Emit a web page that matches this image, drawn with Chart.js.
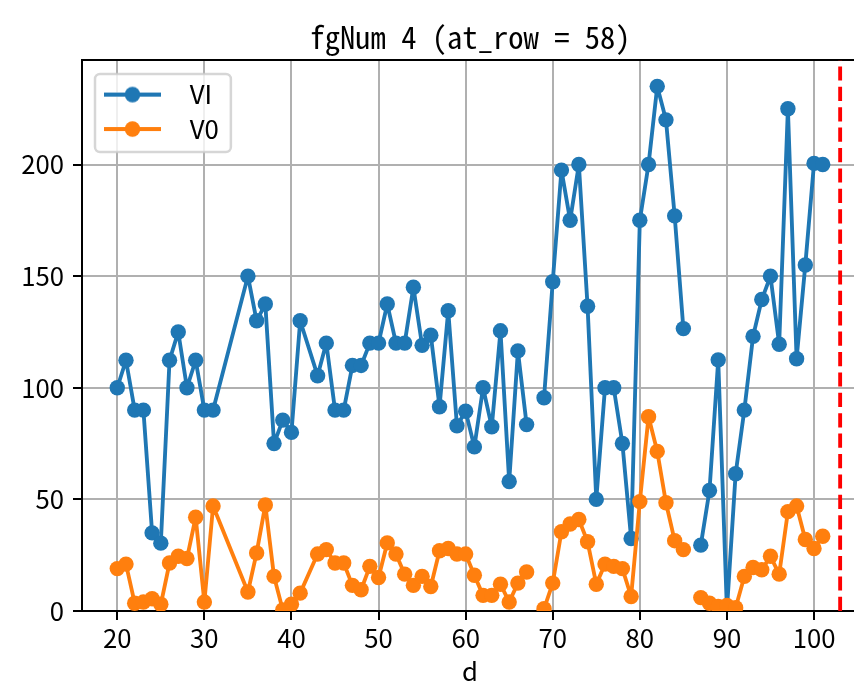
<!DOCTYPE html>
<html lang="ja">
<head>
  <meta charset="UTF-8">
  <title>fgNum 4 (at_row = 58)</title>
  <script src="https://cdn.jsdelivr.net/npm/chart.js"></script>
  <style>
    html, body { margin: 0; padding: 0; background: #fff; overflow: hidden; }
    #wrap { width: 870px; height: 688px; }
  </style>
</head>
<body>
  <div id="wrap"><canvas id="lineChart" width="870" height="688"></canvas></div>

  <script>
    // --- data (null = break in the line) ---
    const dVals = [
      20, 21, 22, 23, 24, 25, 26, 27, 28, 29, 30, 31,
      35, 36, 37, 38, 39, 40, 41,
      43, 44, 45, 46, 47, 48, 49, 50, 51, 52, 53, 54, 55, 56, 57, 58, 59, 60,
      61, 62, 63, 64, 65, 66, 67, 68,
      69, 70, 71, 72, 73, 74, 75, 76, 77, 78, 79, 80, 81, 82, 83, 84, 85, 86,
      87, 88, 89, 90, 91, 92, 93, 94, 95, 96, 97, 98, 99, 100, 101
    ];
    const v1Vals = [
      100, 112.3, 90, 90, 35, 30.4, 112.3, 125, 100, 112.3, 90, 90,
      150, 130, 137.5, 75, 85.5, 80, 130,
      105.4, 120, 90, 90, 110, 110, 120, 120, 137.5, 120, 120, 145, 119, 123.5, 91.5, 134.5, 83, 89.5,
      73.5, 100, 82.5, 125.5, 58, 116.5, 83.5, null,
      95.5, 147.5, 197.5, 175, 200, 136.5, 50, 100, 100, 75, 32.5, 175, 200, 235, 220, 177, 126.5, null,
      29.5, 54, 112.5, 0.5, 61.5, 90, 123, 139.5, 150, 119.5, 225, 113, 155, 200.5, 200
    ];
    const v0Vals = [
      19, 21, 3.5, 4, 5.5, 3, 21.5, 24.5, 23.5, 42, 4, 47,
      8.5, 26, 47.5, 15.5, 0.5, 3, 8,
      25.5, 27.5, 21.5, 21.5, 11.5, 9.5, 20, 15, 30.5, 25.5, 16.5, 11.5, 15.5, 11, 27, 28, 25.5, 25.5,
      16, 7, 7, 12, 4, 12.5, 17.5, null,
      1, 12.5, 35.5, 39, 41, 31, 12, 21, 20, 19, 6.5, 49, 87, 71.5, 48.5, 31.5, 27.5, null,
      6, 3.5, 2, 2.5, 1.5, 15.5, 19.5, 18.5, 24.5, 16.5, 44.5, 47, 32, 28, 33.5
    ];
    const seriesNames = ['VI', 'V0'];
    const vlineX = 103;
    const xTicks = [20, 30, 40, 50, 60, 70, 80, 90, 100];
    const yTicks = [0, 50, 100, 150, 200];
    const xMin = 15.95, xMax = 105.05, yMin = 0, yMax = 246.8;

    const BLUE = '#1f77b4', ORANGE = '#ff7f0e';
    const FS = 25.7; // tick / legend font size

    function hasFont(name) {
      const c = document.createElement('canvas').getContext('2d');
      const s = 'fgNum 4 (at_row = 58) WIim';
      c.font = '40px serif';
      const a = c.measureText(s).width;
      c.font = '40px "' + name + '", serif';
      return c.measureText(s).width !== a;
    }
    const titleFont = hasFont('Noto Sans Mono CJK JP')
      ? { family: '"Noto Sans Mono CJK JP"', size: 30.6, weight: 'normal' }
      : { family: '"Liberation Mono"', size: 25.5, weight: 'normal' };
    const BASE_FAMILY = '"Noto Sans CJK JP", "DejaVu Sans"';

    // legend handle: short line with a marker in the middle
    function makeHandle(color) {
      const c = document.createElement('canvas');
      c.width = 82; c.height = 20;
      const g = c.getContext('2d');
      g.strokeStyle = color; g.lineWidth = 3.85;
      g.beginPath(); g.moveTo(9, 10); g.lineTo(66, 10); g.stroke();
      g.fillStyle = color;
      g.beginPath(); g.arc(37.5, 10, 7.7, 0, Math.PI * 2); g.fill();
      return c;
    }
    const handles = [makeHandle(BLUE), makeHandle(ORANGE)];

    // put the legend inside the axes with a rounded white frame
    const legendFrame = {
      id: 'legendFrame',
      afterLayout(chart) {
        const lg = chart.legend, a = chart.chartArea;
        const pad = lg.options.labels.padding;
        lg.left = a.left + 13 - pad;
        lg.top = a.top + 34.6 - FS / 2 - pad;
      },
      beforeDatasetsDraw(chart) {
        const ctx = chart.ctx, a = chart.chartArea;
        ctx.save();
        ctx.font = FS + 'px ' + BASE_FAMILY;
        const tw = Math.max(...seriesNames.map(t => ctx.measureText(t).width));
        const x0 = a.left + 13, y0 = a.top + 14;
        const w = 82 + FS / 2 + tw + 12, h = 78;
        ctx.beginPath();
        ctx.roundRect(x0, y0, w, h, 5);
        ctx.fillStyle = 'rgba(255,255,255,0.8)';
        ctx.fill();
        ctx.lineWidth = 2.5;
        ctx.strokeStyle = 'rgba(204,204,204,0.8)';
        ctx.stroke();
        ctx.restore();
        chart.legend.draw();
      }
    };

    Chart.defaults.font.family = BASE_FAMILY;
    Chart.defaults.color = '#000';

    const toPts = vals => dVals.map((d, i) => ({ x: d, y: vals[i] }));

    const gridOpts = { color: '#b0b0b0', lineWidth: 2, tickLength: 9, tickColor: '#000', tickWidth: 2 };

    new Chart(document.getElementById('lineChart').getContext('2d'), {
      type: 'line',
      data: {
        datasets: [
          { label: seriesNames[0], data: toPts(v1Vals), borderColor: BLUE, backgroundColor: BLUE,
            borderWidth: 3.85, pointRadius: 7.7, pointBorderWidth: 0, pointBackgroundColor: BLUE,
            tension: 0, spanGaps: false, borderJoinStyle: 'round', clip: 0, order: 3 },
          { label: seriesNames[1], data: toPts(v0Vals), borderColor: ORANGE, backgroundColor: ORANGE,
            borderWidth: 3.85, pointRadius: 7.7, pointBorderWidth: 0, pointBackgroundColor: ORANGE,
            tension: 0, spanGaps: false, borderJoinStyle: 'round', clip: 0, order: 2 },
          { label: 'vline', data: [{ x: vlineX, y: yMin }, { x: vlineX, y: yMax }], borderColor: '#ff0000',
            borderWidth: 3.85, borderDash: [14.2, 6.2], pointRadius: 0, clip: 0, order: 1 }
        ]
      },
      options: {
        responsive: false,
        animation: false,
        devicePixelRatio: 1,
        events: [],
        layout: { padding: { left: 0, right: 12, top: 0, bottom: 0 } },
        plugins: {
          tooltip: { enabled: false },
          title: {
            display: true, text: 'fgNum 4 (at_row = 58)', color: '#000', font: titleFont,
            padding: { top: 19, bottom: 4.3 }, fullSize: false
          },
          legend: {
            position: 'chartArea', align: 'start',
            labels: {
              usePointStyle: true, pointStyleWidth: 82, padding: 8.7, color: '#000',
              font: { size: FS },
              generateLabels: () => seriesNames.map((t, i) => ({
                text: t, pointStyle: handles[i], fillStyle: i ? ORANGE : BLUE,
                strokeStyle: i ? ORANGE : BLUE, lineWidth: 0, hidden: false, datasetIndex: i
              }))
            }
          }
        },
        scales: {
          x: {
            type: 'linear', position: 'bottom', min: xMin, max: xMax,
            afterBuildTicks: s => { s.ticks = xTicks.map(v => ({ value: v })); },
            afterFit: s => { s.height = 77; },
            grid: gridOpts,
            border: { color: '#000', width: 2 },
            ticks: { color: '#000', font: { size: FS }, padding: 3, maxRotation: 0, autoSkip: false },
            title: { display: true, text: 'd', color: '#000', font: { size: FS }, padding: { top: 0, bottom: 1 } }
          },
          xTop: {
            type: 'linear', position: 'top', min: xMin, max: xMax,
            afterBuildTicks: s => { s.ticks = []; },
            afterFit: s => { s.height = 0; },
            grid: { display: false },
            border: { color: '#000', width: 2 },
            ticks: { display: false }
          },
          y: {
            type: 'linear', min: yMin, max: yMax,
            afterBuildTicks: s => { s.ticks = yTicks.map(v => ({ value: v })); },
            afterFit: s => { s.width = 82; },
            grid: gridOpts,
            border: { color: '#000', width: 2 },
            ticks: { color: '#000', font: { size: FS }, padding: 9 }
          }
        }
      },
      plugins: [legendFrame]
    });
  </script>
</body>
</html>
